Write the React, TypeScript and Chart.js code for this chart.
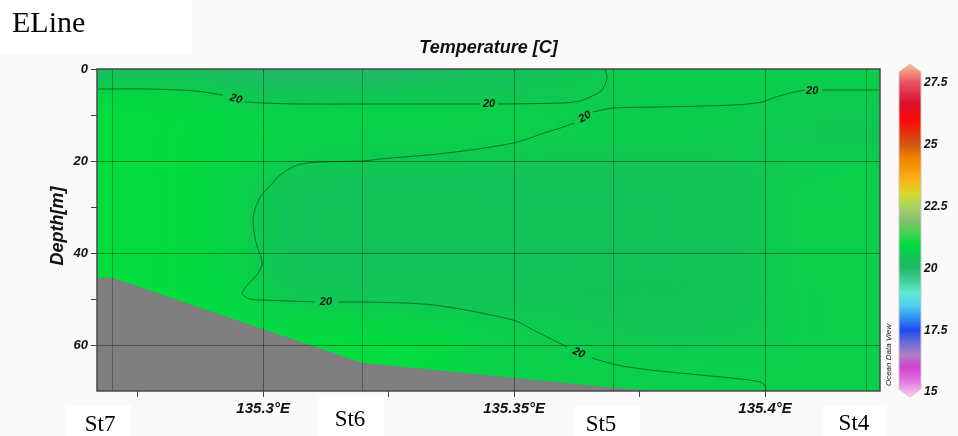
import React, { useEffect, useRef } from "react";
import { Chart, registerables } from "chart.js";

Chart.register(...registerables);

// ---------------- axes ----------------
const LON_MIN = 135.2669;
const LON_MAX = 135.4229;
const DEPTH_MIN = 0;
const DEPTH_MAX = 70;
const X_TICK_STEP = 0.025;
const X_LABEL_STEP = 0.05;
const Y_TICK_STEP = 10;
const Y_LABEL_STEP = 20;

// ---------------- stations ----------------
const STATION_NAMES = ["St7", "St6", "St5", "St4"];
const STATION_LON = [135.2699, 135.3197, 135.3697, 135.4201];

// ---------------- bottom topography ----------------
const BATHY_LON = [135.2669, 135.2699, 135.3197, 135.3697, 135.4229];
const BATHY_DEPTH = [45.5, 45.5, 64.0, 69.4, 74.0];

// ---------------- temperature field ----------------
const FIELD_LON = [135.265, 135.275, 135.285, 135.295, 135.305, 135.315, 135.325, 135.335, 135.345, 135.355, 135.365, 135.375, 135.385, 135.395, 135.405, 135.415, 135.425];
const FIELD_DEPTH = [0, 5, 10, 15, 20, 25, 30, 35, 40, 45, 50, 55, 60, 65, 70];
const T_D0 = [20.25, 20.25, 20.2, 20.1, 20.05, 20.05, 20.05, 20.15, 20.3, 20.4, 20.5, 20.65, 20.65, 20.65, 20.65, 20.65, 20.65];
const T_D5 = [20.8, 20.8, 20.75, 20.5, 20.45, 20.4, 20.45, 20.5, 20.5, 20.55, 20.6, 20.65, 20.65, 20.65, 20.65, 20.65, 20.65];
const T_D10 = [21.0, 21.0, 20.95, 20.85, 20.78, 20.82, 20.8, 20.75, 20.7, 20.7, 20.66, 20.65, 20.65, 20.65, 20.62, 20.58, 20.58];
const T_D15 = [21.0, 21.0, 20.95, 20.85, 20.75, 20.72, 20.7, 20.7, 20.68, 20.68, 20.66, 20.65, 20.65, 20.62, 20.52, 20.48, 20.5];
const T_D20 = [21.0, 21.0, 20.95, 20.85, 20.7, 20.62, 20.6, 20.58, 20.55, 20.5, 20.48, 20.48, 20.48, 20.52, 20.62, 20.65, 20.65];
const T_D25 = [21.0, 21.0, 20.95, 20.75, 20.45, 20.4, 20.4, 20.4, 20.4, 20.4, 20.4, 20.4, 20.42, 20.45, 20.65, 20.68, 20.68];
const T_D30 = [21.0, 21.0, 20.95, 20.75, 20.42, 20.38, 20.38, 20.38, 20.38, 20.38, 20.38, 20.38, 20.4, 20.45, 20.68, 20.7, 20.7];
const T_D35 = [21.0, 21.0, 20.95, 20.75, 20.42, 20.38, 20.38, 20.38, 20.38, 20.38, 20.38, 20.38, 20.4, 20.45, 20.68, 20.7, 20.7];
const T_D40 = [21.0, 21.0, 20.95, 20.78, 20.42, 20.38, 20.38, 20.38, 20.38, 20.38, 20.38, 20.38, 20.4, 20.45, 20.68, 20.7, 20.7];
const T_D45 = [21.0, 21.0, 20.95, 20.8, 20.45, 20.4, 20.4, 20.4, 20.4, 20.4, 20.4, 20.4, 20.4, 20.45, 20.68, 20.7, 20.7];
const T_D50 = [21.0, 21.0, 20.95, 20.85, 20.6, 20.55, 20.52, 20.48, 20.45, 20.45, 20.42, 20.42, 20.42, 20.45, 20.65, 20.7, 20.7];
const T_D55 = [21.0, 21.0, 21.0, 20.92, 20.85, 20.85, 20.8, 20.72, 20.65, 20.6, 20.52, 20.45, 20.45, 20.5, 20.65, 20.7, 20.7];
const T_D60 = [21.0, 21.0, 21.0, 21.0, 21.0, 21.0, 21.0, 20.95, 20.72, 20.68, 20.65, 20.62, 20.6, 20.62, 20.68, 20.7, 20.7];
const T_D65 = [21.0, 21.0, 21.0, 21.0, 21.0, 21.0, 21.0, 20.92, 20.72, 20.7, 20.7, 20.7, 20.7, 20.7, 20.7, 20.7, 20.7];
const T_D70 = [21.0, 21.0, 21.0, 21.0, 21.0, 21.0, 21.0, 20.9, 20.72, 20.7, 20.7, 20.7, 20.7, 20.7, 20.7, 20.7, 20.7];
const FIELD_TEMP = [T_D0, T_D5, T_D10, T_D15, T_D20, T_D25, T_D30, T_D35, T_D40, T_D45, T_D50, T_D55, T_D60, T_D65, T_D70];

// ---------------- 20 °C isotherms (null depth = gap for label) ----------------
const CONTOUR_LEVEL = 20;
const CONTOUR_A_LON = [135.2669, 135.2775, 135.2865, 135.292, 135.292, 135.2964, 135.3, 135.3074, 135.3273, 135.3432, 135.3432, 135.3468, 135.3598, 135.3631, 135.3651, 135.3671, 135.3681, 135.3685, 135.3681];
const CONTOUR_A_DEPTH = [4.35, 4.35, 4.78, 5.65, null, 7.17, 7.39, 7.61, 7.61, 7.61, null, 7.61, 7.39, 6.96, 6.09, 5.0, 3.48, 1.74, 0];
const CONTOUR_B_LON = [135.4229, 135.4114, 135.4114, 135.408, 135.405, 135.4016, 135.3996, 135.3936, 135.3791, 135.3697, 135.3657, 135.3657, 135.362, 135.3592, 135.3566, 135.3498, 135.3367, 135.3233, 135.3199, 135.3114, 135.3068, 135.3034, 135.301, 135.2994, 135.298, 135.2986, 135.2998, 135.299, 135.2958, 135.2974, 135.3, 135.3102, 135.3102, 135.3151, 135.3199, 135.3339, 135.3498, 135.3538, 135.3606, 135.3606, 135.3655, 135.3705, 135.3771, 135.3871, 135.395, 135.399, 135.4, 135.4002];
const CONTOUR_B_DEPTH = [4.57, 4.57, null, 4.57, 5.22, 6.3, 7.17, 7.83, 8.26, 8.48, 9.35, null, 11.74, 12.83, 13.7, 16.09, 18.26, 19.57, 20.0, 20.22, 20.87, 23.04, 25.87, 27.83, 32.17, 37.83, 41.96, 44.35, 48.7, 50.0, 50.22, 50.65, null, 50.65, 50.65, 51.3, 54.57, 56.74, 60.43, null, 62.83, 64.35, 65.43, 66.52, 67.39, 68.04, 68.91, 70.0];
const CONTOUR_LABEL_LON = [135.2946, 135.345, 135.3641, 135.4094, 135.3125, 135.3629];
const CONTOUR_LABEL_DEPTH = [6.52, 7.61, 10.43, 4.78, 50.65, 61.74];
const CONTOUR_LABEL_ANGLE = [15, 0, -30, 0, 0, 24];

// ---------------- colour bar ----------------
const CB_TICKS = [15, 17.5, 20, 22.5, 25, 27.5];
const CB_STOP_VALUES = [14.8, 15.5, 16.0, 16.5, 17.0, 17.5, 18.0, 18.5, 19.0, 19.5, 20.0, 20.4, 20.7, 21.0, 21.5, 22.0, 22.5, 23.0, 23.5, 24.0, 24.5, 25.0, 25.5, 26.0, 26.7, 27.5, 28.2];
const CB_STOP_COLORS = ["#f6d0f4", "#e070e0", "#d040d0", "#b080c0", "#6a6ad8", "#2048f0", "#3090f0", "#50d0f0", "#60e8d0", "#40d098", "#22b868", "#12c158", "#0acf4a", "#02dc3e", "#50d050", "#88c070", "#a8d460", "#d8d830", "#f8b818", "#f89808", "#f08000", "#d05a10", "#e83010", "#ff0808", "#d81030", "#e85060", "#f8b890"];

const SANS = "'Liberation Sans', Arial, Helvetica, sans-serif";
const SERIF = "'Liberation Serif', 'Times New Roman', serif";

// ---------------- helpers ----------------
function hexToRgb(h: string): [number, number, number] {
  const n = parseInt(h.slice(1), 16);
  return [(n >> 16) & 255, (n >> 8) & 255, n & 255];
}
function tempColor(v: number): [number, number, number] {
  const vs = CB_STOP_VALUES;
  if (v <= vs[0]) return hexToRgb(CB_STOP_COLORS[0]);
  for (let i = 1; i < vs.length; i++) {
    if (v <= vs[i]) {
      const f = (v - vs[i - 1]) / (vs[i] - vs[i - 1]);
      const a = hexToRgb(CB_STOP_COLORS[i - 1]);
      const b = hexToRgb(CB_STOP_COLORS[i]);
      return [a[0] + (b[0] - a[0]) * f, a[1] + (b[1] - a[1]) * f, a[2] + (b[2] - a[2]) * f];
    }
  }
  return hexToRgb(CB_STOP_COLORS[CB_STOP_COLORS.length - 1]);
}
const isMultiple = (v: number, step: number) => Math.abs(v / step - Math.round(v / step)) < 1e-6;

// ---------------- plugins ----------------
const backgroundPlugin = {
  id: "odvBackground",
  beforeDraw(chart: any) {
    const { ctx, width, height } = chart;
    ctx.save();
    ctx.fillStyle = "#fafafa";
    ctx.fillRect(0, 0, width, height);
    ctx.fillStyle = "#ffffff";
    ctx.fillRect(0, 0, 192, 53);
    ctx.fillRect(66, 405, 65, 31);
    ctx.fillRect(318, 396, 66, 40);
    ctx.fillRect(574, 405, 66, 31);
    ctx.fillRect(823, 405, 64, 31);
    ctx.restore();
  },
};

const fieldPlugin = {
  id: "odvField",
  beforeDatasetsDraw(chart: any) {
    const { ctx, chartArea, scales } = chart;
    const xs = scales.x;
    const ys = scales.y;
    const nx = FIELD_LON.length;
    const ny = FIELD_DEPTH.length;
    const off = document.createElement("canvas");
    off.width = nx;
    off.height = ny;
    const octx = off.getContext("2d")!;
    const img = octx.createImageData(nx, ny);
    for (let j = 0; j < ny; j++) {
      for (let i = 0; i < nx; i++) {
        const c = tempColor(FIELD_TEMP[j][i]);
        const k = (j * nx + i) * 4;
        img.data[k] = Math.round(c[0]);
        img.data[k + 1] = Math.round(c[1]);
        img.data[k + 2] = Math.round(c[2]);
        img.data[k + 3] = 255;
      }
    }
    octx.putImageData(img, 0, 0);
    const dLon = FIELD_LON[1] - FIELD_LON[0];
    const dDep = FIELD_DEPTH[1] - FIELD_DEPTH[0];
    const x0 = xs.getPixelForValue(FIELD_LON[0] - dLon / 2);
    const x1 = xs.getPixelForValue(FIELD_LON[nx - 1] + dLon / 2);
    const y0 = ys.getPixelForValue(FIELD_DEPTH[0] - dDep / 2);
    const y1 = ys.getPixelForValue(FIELD_DEPTH[ny - 1] + dDep / 2);
    ctx.save();
    ctx.beginPath();
    ctx.rect(chartArea.left, chartArea.top, chartArea.right - chartArea.left, chartArea.bottom - chartArea.top);
    ctx.clip();
    ctx.imageSmoothingEnabled = true;
    (ctx as any).imageSmoothingQuality = "high";
    ctx.drawImage(off, x0, y0, x1 - x0, y1 - y0);
    ctx.restore();
  },
  afterDatasetsDraw(chart: any) {
    const { ctx, chartArea, scales } = chart;
    const xs = scales.x;
    const ys = scales.y;
    ctx.save();
    // station lines
    ctx.strokeStyle = "rgba(0,0,0,0.28)";
    ctx.lineWidth = 1;
    for (const lon of STATION_LON) {
      const px = Math.round(xs.getPixelForValue(lon)) + 0.5;
      ctx.beginPath();
      ctx.moveTo(px, chartArea.top);
      ctx.lineTo(px, chartArea.bottom);
      ctx.stroke();
    }
    // contour labels
    ctx.fillStyle = "#111";
    ctx.font = `italic bold 11px ${SANS}`;
    ctx.textAlign = "center";
    ctx.textBaseline = "middle";
    for (let i = 0; i < CONTOUR_LABEL_LON.length; i++) {
      const px = xs.getPixelForValue(CONTOUR_LABEL_LON[i]);
      const py = ys.getPixelForValue(CONTOUR_LABEL_DEPTH[i]);
      ctx.save();
      ctx.translate(px, py);
      ctx.rotate((CONTOUR_LABEL_ANGLE[i] * Math.PI) / 180);
      ctx.fillText(String(CONTOUR_LEVEL), 0, 0);
      ctx.restore();
    }
    ctx.restore();
  },
};

const decorPlugin = {
  id: "odvDecor",
  afterDraw(chart: any) {
    const { ctx, chartArea, scales } = chart;
    const xs = scales.x;
    ctx.save();
    // frame
    ctx.strokeStyle = "#4a4a4a";
    ctx.lineWidth = 1.5;
    ctx.strokeRect(chartArea.left, chartArea.top, chartArea.right - chartArea.left, chartArea.bottom - chartArea.top);

    // title
    ctx.fillStyle = "#111";
    ctx.font = `italic bold 18px ${SANS}`;
    ctx.textAlign = "center";
    ctx.textBaseline = "middle";
    ctx.fillText("Temperature [C]", (chartArea.left + chartArea.right) / 2, 48);

    // y title
    ctx.save();
    ctx.translate(58, 226);
    ctx.rotate(-Math.PI / 2);
    ctx.font = `italic bold 18px ${SANS}`;
    ctx.fillText("Depth[m]", 0, 0);
    ctx.restore();

    // section name
    ctx.font = `30px ${SERIF}`;
    ctx.textAlign = "left";
    ctx.textBaseline = "alphabetic";
    ctx.fillStyle = "#000";
    ctx.fillText("ELine", 12, 32);

    // station names
    ctx.font = `23px ${SERIF}`;
    ctx.textAlign = "center";
    const baselines = [431, 426, 431, 430];
    for (let i = 0; i < STATION_NAMES.length; i++) {
      const px = xs.getPixelForValue(STATION_LON[i]) - 12;
      ctx.fillText(STATION_NAMES[i], px, baselines[i]);
    }

    // colour bar
    const cbX0 = 899;
    const cbX1 = 921;
    const cbXc = (cbX0 + cbX1) / 2;
    const y15 = 392;
    const pxPerUnit = 24.72;
    const yOf = (v: number) => y15 - (v - 15) * pxPerUnit;
    const vMin = CB_STOP_VALUES[0];
    const vMax = CB_STOP_VALUES[CB_STOP_VALUES.length - 1];
    const grad = ctx.createLinearGradient(0, yOf(vMin), 0, yOf(vMax));
    for (let i = 0; i < CB_STOP_VALUES.length; i++) {
      grad.addColorStop((CB_STOP_VALUES[i] - vMin) / (vMax - vMin), CB_STOP_COLORS[i]);
    }
    ctx.beginPath();
    ctx.moveTo(cbX0, 72);
    ctx.lineTo(cbXc, 64);
    ctx.lineTo(cbX1, 72);
    ctx.lineTo(cbX1, 389);
    ctx.lineTo(cbXc, 397);
    ctx.lineTo(cbX0, 389);
    ctx.closePath();
    ctx.fillStyle = grad;
    ctx.fill();
    ctx.strokeStyle = "#c8c8c8";
    ctx.lineWidth = 1;
    ctx.stroke();

    ctx.fillStyle = "#111";
    ctx.font = `italic bold 12px ${SANS}`;
    ctx.textAlign = "left";
    ctx.textBaseline = "middle";
    for (const t of CB_TICKS) {
      ctx.fillText(String(t), 924, yOf(t));
    }

    ctx.save();
    ctx.translate(889, 355);
    ctx.rotate(-Math.PI / 2);
    ctx.font = `italic 8px ${SANS}`;
    ctx.textAlign = "center";
    ctx.fillStyle = "#222";
    ctx.fillText("Ocean Data View", 0, 0);
    ctx.restore();

    ctx.restore();
  },
};

export default function App() {
  const canvasRef = useRef<HTMLCanvasElement | null>(null);

  useEffect(() => {
    if (!canvasRef.current) return;
    const toXY = (lons: number[], deps: (number | null)[]) =>
      lons.map((x, i) => ({ x, y: deps[i] as any }));

    const chart = new Chart(canvasRef.current, {
      type: "line",
      data: {
        datasets: [
          {
            label: "contourA",
            data: toXY(CONTOUR_A_LON, CONTOUR_A_DEPTH),
            borderColor: "rgba(0,20,0,0.62)",
            borderWidth: 0.8,
            pointRadius: 0,
            tension: 0.3,
            fill: false,
            spanGaps: false,
            order: 1,
          },
          {
            label: "contourB",
            data: toXY(CONTOUR_B_LON, CONTOUR_B_DEPTH),
            borderColor: "rgba(0,20,0,0.62)",
            borderWidth: 0.8,
            pointRadius: 0,
            tension: 0.3,
            fill: false,
            spanGaps: false,
            order: 1,
          },
          {
            label: "bottom",
            data: toXY(BATHY_LON, BATHY_DEPTH),
            borderColor: "#7d7d7d",
            backgroundColor: "#7f7f7f",
            borderWidth: 1,
            pointRadius: 0,
            tension: 0,
            fill: { value: 200 },
            order: 3,
          },
        ] as any,
      },
      options: {
        animation: false,
        responsive: true,
        maintainAspectRatio: false,
        events: [],
        layout: { padding: { left: 0, right: 78, top: 69, bottom: 0 } },
        plugins: {
          legend: { display: false },
          tooltip: { enabled: false },
          title: { display: false },
        },
        scales: {
          x: {
            type: "linear",
            min: LON_MIN,
            max: LON_MAX,
            afterFit: (s: any) => {
              s.height = 45;
            },
            border: { display: false },
            grid: {
              z: 1,
              lineWidth: 1,
              color: (c: any) => (c.tick && isMultiple(c.tick.value, X_LABEL_STEP) ? "rgba(0,0,0,0.38)" : "rgba(0,0,0,0)"),
              tickColor: "#444",
              tickLength: 6,
              drawTicks: true,
            },
            ticks: {
              stepSize: X_TICK_STEP,
              includeBounds: false,
              autoSkip: false,
              maxRotation: 0,
              padding: 3,
              color: "#111",
              font: { family: SANS, size: 15, weight: "bold", style: "italic" },
              callback: (v: any) => (isMultiple(Number(v), X_LABEL_STEP) ? `${Math.round(Number(v) * 1000) / 1000}°E` : ""),
            },
          } as any,
          y: {
            type: "linear",
            reverse: true,
            min: DEPTH_MIN,
            max: DEPTH_MAX,
            afterFit: (s: any) => {
              s.width = 97;
            },
            border: { display: false },
            grid: {
              z: 1,
              lineWidth: 1,
              color: (c: any) =>
                c.tick && isMultiple(c.tick.value, Y_LABEL_STEP) && c.tick.value > DEPTH_MIN && c.tick.value < DEPTH_MAX
                  ? "rgba(0,0,0,0.38)"
                  : "rgba(0,0,0,0)",
              tickColor: (c: any) => (c.tick && c.tick.value >= DEPTH_MAX ? "rgba(0,0,0,0)" : "#444"),
              tickLength: 6,
              drawTicks: true,
            },
            ticks: {
              stepSize: Y_TICK_STEP,
              autoSkip: false,
              padding: 3,
              color: "#111",
              font: { family: SANS, size: 13, weight: "bold", style: "italic" },
              callback: (v: any) => (isMultiple(Number(v), Y_LABEL_STEP) ? String(v) : ""),
            },
          } as any,
        },
      },
      plugins: [backgroundPlugin, fieldPlugin, decorPlugin],
    });
    return () => chart.destroy();
  }, []);

  return (
    <div style={{ position: "fixed", left: 0, top: 0, width: 958, height: 436 }}>
      <canvas ref={canvasRef} />
    </div>
  );
}
